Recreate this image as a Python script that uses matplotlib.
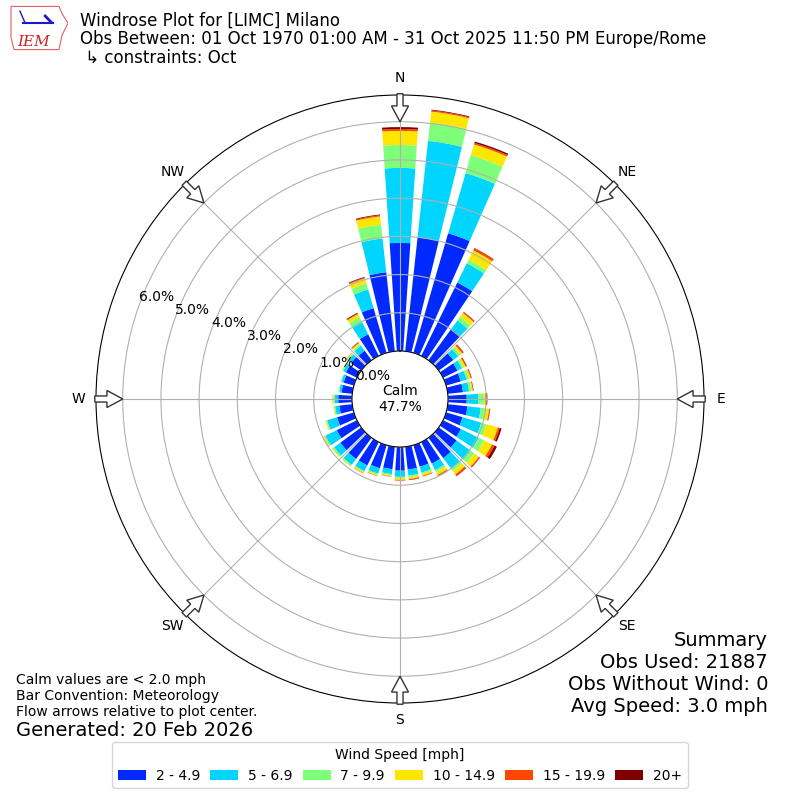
import numpy as np
import matplotlib
matplotlib.use("Agg")
import matplotlib.pyplot as plt
from matplotlib.patches import FancyArrow, Polygon

# direction bins (deg, from north) and percent of obs per speed class
dirs = np.arange(0, 360, 10)
spd_2_5 = [2.83, 3.00, 3.26, 2.14, 1.02, 0.47, 0.42, 0.40, 0.40, 0.49, 0.52, 0.45,
           0.52, 0.58, 0.66, 0.63, 0.59, 0.60, 0.62, 0.59, 0.63, 0.68, 0.69, 0.68,
           0.59, 0.46, 0.34, 0.36, 0.28, 0.28, 0.32, 0.33, 0.31, 0.63, 1.22, 2.08]
spd_5_7 = [1.96, 2.54, 1.64, 0.56, 0.27, 0.16, 0.13, 0.16, 0.16, 0.30, 0.35, 0.51,
           0.52, 0.45, 0.34, 0.19, 0.16, 0.16, 0.16, 0.13, 0.15, 0.17, 0.19, 0.20,
           0.33, 0.27, 0.11, 0.09, 0.06, 0.06, 0.08, 0.10, 0.16, 0.35, 0.51, 0.89]
spd_7_10 = [0.60, 0.48, 0.49, 0.11, 0.12, 0.07, 0.05, 0.06, 0.06, 0.15, 0.13, 0.14,
            0.16, 0.12, 0.08, 0.06, 0.04, 0.04, 0.04, 0.03, 0.03, 0.03, 0.04, 0.05,
            0.04, 0.03, 0.03, 0.04, 0.02, 0.02, 0.03, 0.03, 0.05, 0.15, 0.16, 0.36]
spd_10_15 = [0.37, 0.29, 0.29, 0.27, 0.12, 0.06, 0.06, 0.05, 0.04, 0.04, 0.09, 0.31,
             0.23, 0.15, 0.11, 0.08, 0.05, 0.05, 0.04, 0.03, 0.03, 0.03, 0.02, 0.02,
             0.03, 0.02, 0.02, 0.03, 0.00, 0.00, 0.01, 0.02, 0.04, 0.09, 0.14, 0.22]
spd_15_20 = [0.05, 0.03, 0.04, 0.06, 0.03, 0.04, 0.03, 0.02, 0.01, 0.02, 0.02, 0.05,
             0.07, 0.03, 0.05, 0.03, 0.02, 0.02, 0.02, 0.01, 0.01, 0.01, 0.00, 0.00,
             0.01, 0.00, 0.00, 0.00, 0.00, 0.00, 0.00, 0.01, 0.02, 0.02, 0.02, 0.03]
spd_20p = [0.05, 0.02, 0.04, 0.01, 0.01, 0.01, 0.01, 0.01, 0.01, 0.03, 0.01, 0.05,
           0.07, 0.01, 0.01, 0.01, 0.00, 0.01, 0.00, 0.00, 0.00, 0.00, 0.00, 0.00,
           0.00, 0.00, 0.00, 0.00, 0.00, 0.00, 0.00, 0.00, 0.01, 0.02, 0.02, 0.02]
speed_labels = ["2 - 4.9", "5 - 6.9", "7 - 9.9", "10 - 14.9", "15 - 19.9", "20+"]
calm_pct = 47.7
rings = [0, 1, 2, 3, 4, 5, 6]
compass = ["N", "NE", "E", "SE", "S", "SW", "W", "NW"]

series = [spd_2_5, spd_5_7, spd_7_10, spd_10_15, spd_15_20, spd_20p]
colors = plt.get_cmap("jet")(np.linspace(0, 1, 7))[1:]

fig = plt.figure(figsize=(8, 8), dpi=100)
ax = fig.add_axes([0.12, 0.12125, 0.76, 0.76], projection="polar")
ax.set_theta_zero_location("N")
ax.set_theta_direction(-1)

theta = np.deg2rad(dirs)
width = np.deg2rad(7.6)
bottom = np.zeros(len(dirs))
for vals, col, lab in zip(series, colors, speed_labels):
    vals = np.array(vals)
    ax.bar(theta, vals, width=width, bottom=bottom, color=col, label=lab,
           linewidth=0)
    bottom = bottom + vals

ax.set_rorigin(-1.257)
ax.set_ylim(0, 6.7)
ax.set_rgrids(rings, labels=["%.1f%%" % r for r in rings], angle=290)
ax.set_thetagrids(np.arange(0, 360, 45), labels=compass)
ax.tick_params(axis="x", pad=2)
ax.grid(True, color="#b0b0b0", lw=0.8)

ax.text(0, -1.257, "Calm\n%.1f%%" % calm_pct, ha="center", va="center",
        fontsize=10)

# flow arrows on the rim, pointing at the center
for ang in np.arange(0, 360, 45):
    a = np.deg2rad(ang)
    ux, uy = np.sin(a), np.cos(a)
    r0 = 0.502
    ln = 0.046
    ax.add_patch(FancyArrow(0.5 + r0 * ux, 0.5 + r0 * uy, -ln * ux, -ln * uy,
                            width=0.010, head_width=0.028, head_length=0.026,
                            length_includes_head=True, transform=ax.transAxes,
                            fc="white", ec="#333333", lw=1, clip_on=False,
                            zorder=5))

fig.text(0.1, 0.985, "Windrose Plot for [LIMC] Milano\n"
         "Obs Between: 01 Oct 1970 01:00 AM - 31 Oct 2025 11:50 PM Europe/Rome\n"
         " \u21b3 constraints: Oct", va="top", fontsize=12, linespacing=1.02)

fig.text(0.02, 0.101, "Calm values are < 2.0 mph\nBar Convention: Meteorology\n"
         "Flow arrows relative to plot center.", va="bottom", fontsize=10)
fig.text(0.02, 0.099, "Generated: 20 Feb 2026", va="top", fontsize=14)
fig.text(0.96, 0.105, "Summary\nObs Used: 21887\nObs Without Wind: 0\n"
         "Avg Speed: 3.0 mph", ha="right", va="bottom", fontsize=14)

fig.legend(loc="lower center", bbox_to_anchor=(0.5, 0.006), ncol=6,
           title="Wind Speed [mph]", fontsize=10, title_fontsize=10,
           columnspacing=0.75, handletextpad=0.7)

# rough IEM logo
lax = fig.add_axes([0.01, 0.935, 0.075, 0.06])
lax.set_xlim(0, 1)
lax.set_ylim(0, 1)
lax.axis("off")
lax.add_patch(Polygon([[0.05, 0.95], [0.85, 0.95], [0.9, 0.8], [1.0, 0.6],
                       [0.9, 0.35], [0.85, 0.05], [0.1, 0.05], [0.05, 0.3]],
                      closed=True, fill=False, ec="#e06060", lw=0.8))
lax.plot([0.25, 0.75], [0.6, 0.6], color="#1a1acc", lw=1.5)
lax.plot([0.2, 0.28], [0.85, 0.62], color="#1a1acc", lw=1)
lax.plot([0.62, 0.72], [0.75, 0.62], color="#1a1acc", lw=2)
lax.text(0.42, 0.2, "IEM", color="#cc2222", fontsize=11, family="serif",
         style="italic", ha="center", va="center")

fig.savefig("out.png", dpi=100)
